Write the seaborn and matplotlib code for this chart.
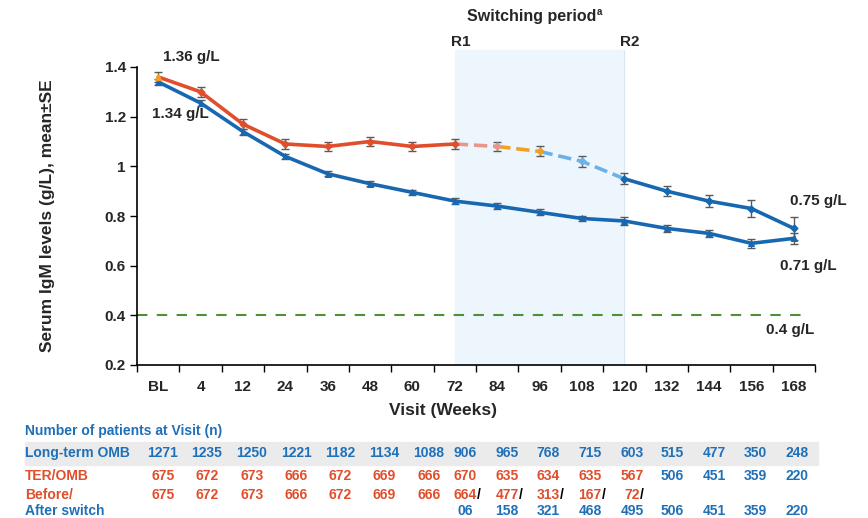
import numpy as np
import pandas as pd
import matplotlib
matplotlib.use("Agg")
import matplotlib.pyplot as plt
import seaborn as sns

# ---------------- data ----------------
visits = ["BL", "4", "12", "24", "36", "48", "60", "72", "84", "96", "108", "120", "132", "144", "156", "168"]
ter_omb_mean = [1.36, 1.30, 1.17, 1.09, 1.08, 1.10, 1.08, 1.09, 1.08, 1.06, 1.02, 0.95, 0.90, 0.86, 0.83, 0.75]
ter_omb_se = [0.020, 0.020, 0.020, 0.020, 0.020, 0.020, 0.020, 0.020, 0.020, 0.020, 0.022, 0.022, 0.020, 0.025, 0.035, 0.045]
long_omb_mean = [1.34, 1.255, 1.14, 1.04, 0.97, 0.93, 0.895, 0.86, 0.84, 0.815, 0.79, 0.78, 0.75, 0.73, 0.69, 0.71]
long_omb_se = [0.012, 0.012, 0.012, 0.010, 0.010, 0.010, 0.010, 0.012, 0.012, 0.012, 0.012, 0.015, 0.015, 0.015, 0.018, 0.022]
threshold = 0.4

n_long = ["1271", "1235", "1250", "1221", "1182", "1134", "1088", "906", "965", "768", "715", "603", "515", "477", "350", "248"]
n_ter = ["675", "672", "673", "666", "672", "669", "666", "670", "635", "634", "635", "567", "506", "451", "359", "220"]
n_before = ["675", "672", "673", "666", "672", "669", "666", "664", "477", "313", "167", "72", "", "", "", ""]
n_after = ["", "", "", "", "", "", "", "06", "158", "321", "468", "495", "506", "451", "359", "220"]

# ---------------- style ----------------
sns.set_style("white")
plt.rcParams["font.family"] = ["Liberation Sans", "DejaVu Sans"]
plt.rcParams["font.weight"] = "bold"

W, H = 868, 518
fig = plt.figure(figsize=(W / 100, H / 100), dpi=100)
ax = fig.add_axes([137 / W, 1 - 365 / H, (815 - 137) / W, (365 - 67) / H])

RED = "#E04E2B"
PINK = "#E8968C"
ORANGE = "#F0A024"
LBLUE = "#6AB2E8"
DBLUE = "#1767B1"
TBLUE = "#1F70B8"
GRAY = "#5A5A5A"

x = np.arange(len(visits))
df = pd.DataFrame({"x": x, "ter": ter_omb_mean, "ter_se": ter_omb_se,
                   "lt": long_omb_mean, "lt_se": long_omb_se})

# switching period shading
ax.axvspan(7, 11, ymin=0, ymax=(365 - 50) / (365 - 67), color="#EEF6FD", zorder=0, clip_on=False)
ax.plot([11, 11], [0.2, 1.468], color="#DCE6EE", lw=0.8, zorder=0.5, clip_on=False)

# threshold
ax.axhline(threshold, xmin=0, xmax=0.99, color="#4F8F35", lw=1.5, dashes=(5, 4.5), zorder=1)

# error bars
ax.errorbar(df["x"], df["lt"], yerr=df["lt_se"], fmt="none", ecolor=GRAY, elinewidth=1, capsize=3, capthick=1, zorder=2)
ax.errorbar(df["x"], df["ter"], yerr=df["ter_se"], fmt="none", ecolor=GRAY, elinewidth=1, capsize=3, capthick=1, zorder=2)

# long-term OMB line
sns.lineplot(data=df, x="x", y="lt", ax=ax, color=DBLUE, lw=2.6, marker="^", markersize=5,
             markeredgecolor=DBLUE, zorder=3, legend=False)

# TER/OMB line in segments
segs = [
    (0, 7, RED, "-"),
    (7, 8, PINK, "--"),
    (8, 9, ORANGE, "--"),
    (9, 11, LBLUE, "--"),
    (11, 15, DBLUE, "-"),
]
for a, b, c, ls in segs:
    sub = df.iloc[a:b + 1]
    sns.lineplot(data=sub, x="x", y="ter", ax=ax, color=c, lw=2.6, linestyle=ls,
                 zorder=3, legend=False)
mcols = [ORANGE, RED, RED, RED, RED, RED, RED, RED, PINK, ORANGE, LBLUE, DBLUE, DBLUE, DBLUE, DBLUE, DBLUE]
mk = ["^"] + ["D"] * 15
for i in range(len(visits)):
    ax.plot(df["x"][i], df["ter"][i], marker=mk[i], markersize=5 if i == 0 else 3.5,
            color=mcols[i], markeredgecolor=mcols[i], zorder=4, ls="none")

# axes formatting
ax.set_xlim(-0.5, 15.5)
ax.set_ylim(0.2, 1.4)
ax.set_yticks([0.2, 0.4, 0.6, 0.8, 1.0, 1.2, 1.4])
ax.set_yticklabels(["0.2", "0.4", "0.6", "0.8", "1", "1.2", "1.4"], fontsize=11, fontweight="bold")
ax.set_xticks(x)
ax.set_xticklabels(visits, fontsize=11, fontweight="bold")
ax.set_xticks(np.arange(-0.5, 16, 1), minor=True)
ax.tick_params(axis="x", which="major", length=0, pad=11)
ax.tick_params(axis="x", which="minor", length=5, width=1, direction="out", color="black", bottom=True)
ax.tick_params(axis="y", which="major", length=5, width=1, direction="out", color="black", left=True, pad=3)
for s in ["top", "right"]:
    ax.spines[s].set_visible(False)
for s in ["left", "bottom"]:
    ax.spines[s].set_color("black")
    ax.spines[s].set_linewidth(1.2)
ax.set_xlabel("")
ax.set_ylabel("")

def ftext(px, py, s, **kw):
    return fig.text(px / W, 1 - py / H, s, **kw)

ftext(48, 216, "Serum IgM levels (g/L), mean±SE", rotation=90, ha="center", va="center", fontsize=12.5, fontweight="bold")
ftext(443, 410, "Visit (Weeks)", ha="center", va="center", fontsize=12.5, fontweight="bold")

# annotations
ftext(532, 17, "Switching period", ha="center", va="center", fontsize=11.5, fontweight="bold")
ftext(597, 12, "a", ha="left", va="center", fontsize=7, fontweight="bold")
ftext(461, 42, "R1", ha="center", va="center", fontsize=11, fontweight="bold")
ftext(630, 42, "R2", ha="center", va="center", fontsize=11, fontweight="bold")
ftext(191, 57, "1.36 g/L", ha="center", va="center", fontsize=11, fontweight="bold")
ftext(180, 114, "1.34 g/L", ha="center", va="center", fontsize=11, fontweight="bold")
ftext(818, 201, "0.75 g/L", ha="center", va="center", fontsize=11, fontweight="bold")
ftext(808, 266, "0.71 g/L", ha="center", va="center", fontsize=11, fontweight="bold")
ftext(790, 330, "0.4 g/L", ha="center", va="center", fontsize=11, fontweight="bold")

# ---------------- patient numbers table ----------------
col_px = [163, 207, 252, 296, 340, 384, 429, 465, 507, 548, 590, 632, 672, 714, 755, 797]
band = plt.Rectangle((25 / W, 1 - 465 / H), (818 - 25) / W, 23 / H, transform=fig.transFigure,
                     color="#EBEBEB", zorder=0)
fig.patches.append(band)
tfs = 10
ftext(25, 431, "Number of patients at Visit (n)", ha="left", va="center", fontsize=tfs, color=TBLUE, fontweight="bold")
ftext(25, 453, "Long-term OMB", ha="left", va="center", fontsize=tfs, color=TBLUE, fontweight="bold")
ftext(25, 476, "TER/OMB", ha="left", va="center", fontsize=tfs, color=RED, fontweight="bold")
ftext(25, 495, "Before/", ha="left", va="center", fontsize=tfs, color=RED, fontweight="bold")
ftext(25, 511, "After switch", ha="left", va="center", fontsize=tfs, color=TBLUE, fontweight="bold")

slash_after = []
for i, cx in enumerate(col_px):
    ftext(cx, 453, n_long[i], ha="center", va="center", fontsize=tfs, color=TBLUE, fontweight="bold")
    ftext(cx, 476, n_ter[i], ha="center", va="center", fontsize=tfs, color=RED if i <= 11 else TBLUE, fontweight="bold")
    if n_before[i]:
        t = ftext(cx, 495, n_before[i], ha="center", va="center", fontsize=tfs, color=RED, fontweight="bold")
        if n_after[i]:
            slash_after.append(t)
    if n_after[i]:
        ftext(cx, 511, n_after[i], ha="center", va="center", fontsize=tfs, color=TBLUE, fontweight="bold")

fig.canvas.draw()
r = fig.canvas.get_renderer()
for t in slash_after:
    bb = t.get_window_extent(renderer=r)
    fig.text(bb.x1 / W, 1 - 495 / H, "/", ha="left", va="center", fontsize=tfs, color="black", fontweight="bold")

fig.savefig("out.png", dpi=100)
